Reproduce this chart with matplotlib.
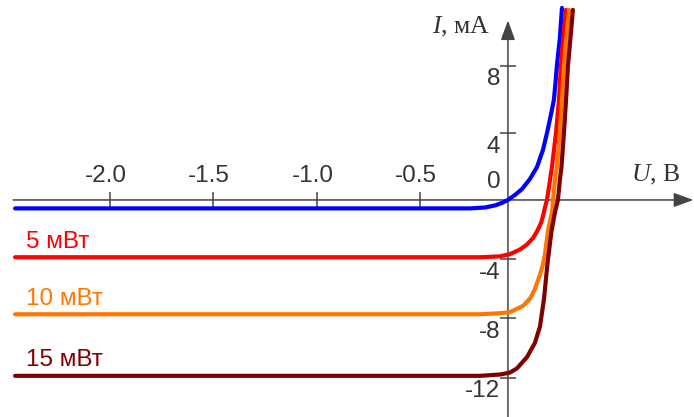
#!/usr/bin/env python3
"""Photodiode I-V curves: dark current and 5 / 10 / 15 mW illumination."""
import numpy as np
import matplotlib
matplotlib.use("Agg")
import matplotlib.pyplot as plt

# ---- data (U in V, I in mA) ----
u_dark = [-2.459, -0.216, -0.131, -0.074, -0.034, 0.0, 0.040, 0.080, 0.125,
          0.165, 0.199, 0.222, 0.244, 0.261, 0.270, 0.278, 0.295, 0.307]
i_dark = [-0.57, -0.57, -0.51, -0.37, -0.20, 0.0, 0.30, 0.65, 1.25,
          1.96, 2.98, 3.99, 5.06, 5.95, 6.96, 7.98, 9.64, 11.43]

u_5mw = [-2.459, -0.159, -0.045, 0.011, 0.068, 0.108, 0.142, 0.165, 0.188,
         0.199, 0.210, 0.222, 0.239, 0.250, 0.273, 0.290, 0.301, 0.315, 0.330]
i_5mw = [-3.87, -3.87, -3.81, -3.66, -3.35, -3.01, -2.58, -2.13, -1.55,
         -1.10, -0.52, 0.0, 1.19, 1.96, 3.99, 5.95, 7.98, 9.64, 11.31]

u_10mw = [-2.459, -0.159, -0.045, 0.011, 0.085, 0.125, 0.153, 0.182, 0.199,
          0.210, 0.227, 0.239, 0.250, 0.256, 0.267, 0.278, 0.295, 0.307,
          0.318, 0.332, 0.347]
i_10mw = [-7.72, -7.72, -7.65, -7.58, -7.16, -6.67, -6.04, -5.05, -4.35,
          -3.68, -2.13, -1.42, -0.84, 0.0, 1.19, 1.96, 3.99, 5.95,
          7.98, 9.64, 11.31]

u_15mw = [-2.459, -0.159, -0.045, 0.011, 0.051, 0.108, 0.153, 0.182, 0.205,
          0.224, 0.247, 0.267, 0.284, 0.295, 0.304, 0.318, 0.330, 0.341,
          0.355, 0.369]
i_15mw = [-11.88, -11.88, -11.79, -11.66, -11.38, -10.62, -9.66, -8.55, -6.67,
          -4.35, -2.13, -0.84, 0.0, 1.19, 1.96, 3.99, 5.95, 7.98,
          9.64, 11.31]

curve_labels = ["5 мВт", "10 мВт", "15 мВт"]

x_ticks = [-2.0, -1.5, -1.0, -0.5]
x_tick_labels = ["-2.0", "-1.5", "-1.0", "-0.5"]
y_ticks = [-12, -8, -4, 4, 8]
y_tick_labels = ["-12", "-8", "-4", "4", "8"]

C_DARK = "#0000FF"
C_5 = "#FF0000"
C_10 = "#FF7700"
C_15 = "#800000"
C_AXIS = "#444444"
C_TEXT = "#333333"

# the drawing is not to a single scale: the reverse-bias branch of U is
# stretched and the positive I half-axis is wider than the negative one
KX = 1.174
KY = 1.135


def fwd_x(v):
    v = np.asarray(v, float)
    return np.where(v < -0.5, -0.5 + (v + 0.5) * KX, v)


def inv_x(u):
    u = np.asarray(u, float)
    return np.where(u < -0.5, -0.5 + (u + 0.5) / KX, u)


def fwd_y(i):
    i = np.asarray(i, float)
    return np.where(i > 0, i * KY, i)


def inv_y(t):
    t = np.asarray(t, float)
    return np.where(t > 0, t / KY, t)


plt.rcParams["font.family"] = ["Liberation Sans", "DejaVu Sans"]
plt.rcParams["mathtext.fontset"] = "custom"
plt.rcParams["mathtext.it"] = "Liberation Serif:italic"
plt.rcParams["mathtext.rm"] = "Liberation Serif"

fig = plt.figure(figsize=(6.94, 4.17), dpi=100)
ax = fig.add_axes([0, 0, 1, 1])
ax.set_xscale("function", functions=(fwd_x, inv_x))
ax.set_yscale("function", functions=(fwd_y, inv_y))
ax.set_xlim(-2.532, 1.057)
ax.set_ylim(-14.66, 11.90)

lw = 3.0
for u, i, c in [(u_dark, i_dark, C_DARK), (u_5mw, i_5mw, C_5),
                (u_10mw, i_10mw, C_10), (u_15mw, i_15mw, C_15)]:
    ax.plot(u, i, color=c, lw=lw, solid_capstyle="round",
            solid_joinstyle="round", zorder=3)

# axes through the origin, with arrows
for s in ax.spines.values():
    s.set_visible(False)
ax.spines["left"].set_position(("data", 0))
ax.spines["bottom"].set_position(("data", 0))
arrow = dict(arrowstyle="-|>,head_length=0.6,head_width=0.22", color=C_AXIS,
             lw=1.1, shrinkA=0, shrinkB=0, mutation_scale=20)
ax.annotate("", xy=(0.999, 0), xycoords=("axes fraction", "data"),
            xytext=(0.019, 0), textcoords=("axes fraction", "data"),
            arrowprops=arrow, zorder=2)
ax.annotate("", xy=(0, 0.951), xycoords=("data", "axes fraction"),
            xytext=(0, 0.0), textcoords=("data", "axes fraction"),
            arrowprops=arrow, zorder=2)

ax.set_xticks(x_ticks)
ax.set_yticks(y_ticks)
ax.tick_params(axis="x", direction="inout", length=11, width=1.1,
               color=C_AXIS, labelbottom=False)
ax.tick_params(axis="y", direction="inout", length=12, width=1.1,
               color=C_AXIS, labelleft=False)
ax.minorticks_off()

fs = 17.5
for v, lab in zip(x_ticks, x_tick_labels):
    ax.annotate(lab, xy=(v, 0), xytext=(-3, 13), textcoords="offset points",
                ha="center", va="baseline", fontsize=fs, color=C_TEXT)
for v, lab in zip(y_ticks, y_tick_labels):
    ax.annotate(lab, xy=(0, v), xytext=(-5.5, -2), textcoords="offset points",
                ha="right", va="top", fontsize=fs, color=C_TEXT)
ax.annotate("0", xy=(0, 0), xytext=(-5.5, 5), textcoords="offset points",
            ha="right", va="bottom", fontsize=fs, color=C_TEXT)

# axis titles
ax.annotate("$I$, мА", xy=(0, 1), xycoords=("data", "axes fraction"),
            xytext=(-13, -33 * 0.72), textcoords="offset points",
            ha="right", va="baseline", fontsize=18.5, color=C_TEXT,
            family="Liberation Serif")
ax.annotate("$U$, В", xy=(1, 0), xycoords=("axes fraction", "data"),
            xytext=(-10, 13), textcoords="offset points",
            ha="right", va="baseline", fontsize=18.5, color=C_TEXT,
            family="Liberation Serif")

# curve labels, above the saturation level of each curve
for lab, i_sat, c in zip(curve_labels, [i_5mw[0], i_10mw[0], i_15mw[0]],
                         [C_5, C_10, C_15]):
    ax.annotate(lab, xy=(0, i_sat), xycoords=("axes fraction", "data"),
                xytext=(19, 7), textcoords="offset points",
                ha="left", va="baseline", fontsize=fs, color=c)

fig.savefig("out.png", dpi=100)
